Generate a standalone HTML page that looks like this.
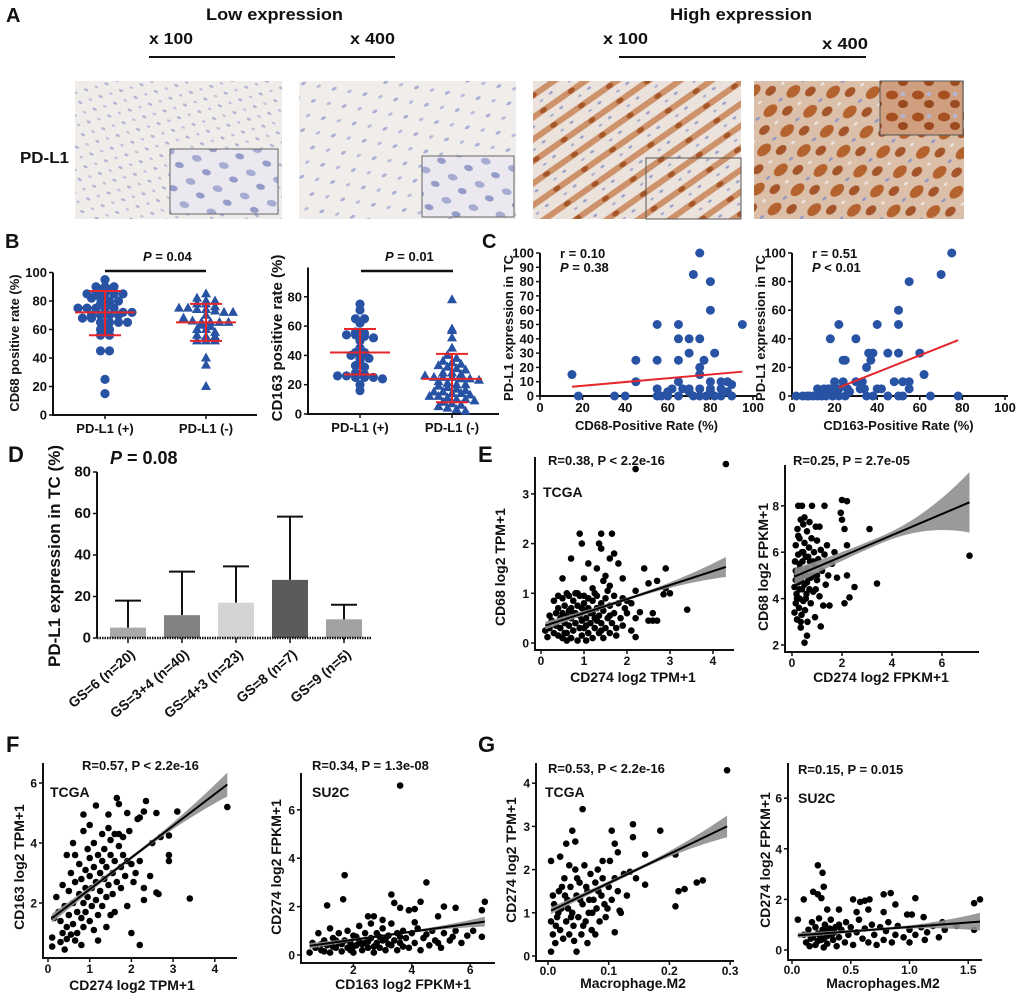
<!DOCTYPE html>
<html><head><meta charset="utf-8">
<style>
html,body{margin:0;padding:0;background:#fff;}
svg{display:block;}
text{font-family:"Liberation Sans",Arial,sans-serif;font-weight:bold;fill:#111;}
</style></head>
<body>
<svg id="fig" width="1020" height="1000" viewBox="0 0 1020 1000" xmlns="http://www.w3.org/2000/svg">
<defs>
<pattern id="lowP" width="16" height="14" patternUnits="userSpaceOnUse" patternTransform="rotate(25)">
<rect width="16" height="14" fill="#efece9"/>
<ellipse cx="4" cy="3" rx="2.2" ry="1.2" fill="#aeb2d5"/>
<ellipse cx="12" cy="10" rx="1.8" ry="1.1" fill="#bcbfdc"/>
</pattern>
<pattern id="lowP2" width="24" height="20" patternUnits="userSpaceOnUse" patternTransform="rotate(-30)">
<rect width="24" height="20" fill="#f0edeb"/>
<ellipse cx="5" cy="4" rx="2.8" ry="1.5" fill="#a8add4"/>
<ellipse cx="17" cy="14" rx="2.4" ry="1.4" fill="#b5b9db"/>
</pattern>
<pattern id="lowInset" width="28" height="24" patternUnits="userSpaceOnUse" patternTransform="rotate(15)">
<rect width="28" height="24" fill="#ebe9ef"/>
<ellipse cx="7" cy="6" rx="5" ry="3.2" fill="#a6abd2"/>
<ellipse cx="20" cy="17" rx="4.5" ry="3" fill="#959bc9"/>
</pattern>
<pattern id="highP" width="34" height="18" patternUnits="userSpaceOnUse" patternTransform="rotate(-35)">
<rect width="34" height="18" fill="#ece2dc"/>
<rect y="3" width="34" height="6" fill="#c98456" opacity="0.85"/>
<ellipse cx="8" cy="6" rx="4" ry="2.5" fill="#a45628"/>
<ellipse cx="24" cy="14" rx="2.2" ry="1.2" fill="#9aa0cc"/>
<ellipse cx="12" cy="15" rx="2" ry="1.1" fill="#a7acd2"/>
</pattern>
<pattern id="highP2" width="30" height="26" patternUnits="userSpaceOnUse" patternTransform="rotate(-40)">
<rect width="30" height="26" fill="#dcbfa8"/>
<ellipse cx="9" cy="8" rx="8" ry="5" fill="#b4632f"/>
<ellipse cx="22" cy="19" rx="6" ry="4" fill="#a5552a"/>
<ellipse cx="24" cy="6" rx="2.5" ry="1.3" fill="#8f96c6"/>
<ellipse cx="6" cy="21" rx="2.2" ry="1.2" fill="#eee6e2"/>
</pattern>
<pattern id="highInset" width="26" height="22" patternUnits="userSpaceOnUse">
<rect width="26" height="22" fill="#cf9f7f"/>
<ellipse cx="8" cy="7" rx="6" ry="4.5" fill="#a64f20"/>
<ellipse cx="19" cy="16" rx="5" ry="4" fill="#9a4a1e"/>
<ellipse cx="19" cy="6" rx="2.5" ry="2" fill="#b3b4d6"/>
</pattern>
</defs>

<g>
<text x="6" y="22" font-size="20">A</text>
<text x="206" y="20" font-size="17" textLength="137" lengthAdjust="spacingAndGlyphs">Low expression</text>
<text x="670" y="20" font-size="17" textLength="142" lengthAdjust="spacingAndGlyphs">High expression</text>
<text x="149" y="44" font-size="16" textLength="44" lengthAdjust="spacingAndGlyphs">x 100</text>
<text x="350" y="44" font-size="16" textLength="45" lengthAdjust="spacingAndGlyphs">x 400</text>
<line x1="149" y1="57" x2="395" y2="57" stroke="#111" stroke-width="2"/>
<text x="603" y="44" font-size="16" textLength="45" lengthAdjust="spacingAndGlyphs">x 100</text>
<text x="822" y="49" font-size="16" textLength="46" lengthAdjust="spacingAndGlyphs">x 400</text>
<line x1="619" y1="57" x2="866" y2="57" stroke="#111" stroke-width="2"/>
<text x="20" y="163" font-size="16" textLength="49" lengthAdjust="spacingAndGlyphs">PD-L1</text>
<rect x="75" y="81" width="207" height="138" fill="url(#lowP)"/>
<rect x="170" y="149" width="108" height="65" fill="url(#lowInset)" stroke="#666" stroke-width="1"/>
<rect x="299" y="81" width="217" height="138" fill="url(#lowP2)"/>
<rect x="422" y="156" width="92" height="61" fill="url(#lowInset)" stroke="#666" stroke-width="1"/>
<rect x="533" y="81" width="208" height="138" fill="url(#highP)"/>
<rect x="646" y="158" width="95" height="61" fill="url(#highP)" stroke="#555" stroke-width="1"/>
<rect x="754" y="81" width="210" height="138" fill="url(#highP2)"/>
<rect x="880" y="81" width="83" height="54" fill="url(#highInset)" stroke="#555" stroke-width="1"/>
</g>

<text x="5" y="248" font-size="20">B</text>
<text x="482" y="248" font-size="20">C</text>
<text x="8" y="462" font-size="22">D</text>
<text x="478" y="462" font-size="22">E</text>
<text x="6" y="752" font-size="22">F</text>
<text x="478" y="752" font-size="22">G</text>

<g id="charts"></g>
</svg>

<script>
// ---------- DATA ----------
const bLeftPos = [95,90,90,90,88,88,85,85,85,85,85,82,82,80,80,78,78,75,75,75,75,75,72,72,70,70,70,70,68,68,65,65,65,65,62,60,60,56,56,45,45,25,15];
const bLeftNeg = [85,82,80,80,78,78,76,75,75,74,74,73,72,72,70,68,66,65,65,65,65,63,62,60,60,58,56,55,55,52,52,52,40,35,20];
const bLeftMean = [72,65];
const bLeftSdLo = [56,52];
const bLeftSdHi = [87,78];
const bRightPos = [75,71,65,65,62,56,55,54,54,53,52,50,45,42,42,40,38,38,36,33,32,28,27,26,26,25,25,25,24,20,16];
const bRightNeg = [78,58,57,52,45,40,38,36,35,34,33,32,31,30,28,28,27,26,25,25,25,24,24,23,22,21,20,20,19,18,17,16,15,15,14,14,13,12,12,11,10,10,9,8,7,6,5,4,3,2];
const bRightMean = [42,24];
const bRightSdLo = [27,8];
const bRightSdHi = [58,41];
const bCategories = ["PD-L1 (+)","PD-L1 (-)"];
const bLeftTicks = [0,20,40,60,80,100];
const bRightTicks = [0,20,40,60,80];
const cLeftPoints = [[15,15],[18,0],[35,0],[40,0],[45,25],[45,10],[55,50],[55,25],[55,5],[55,0],[57,0],[60,3],[60,0],[62,5],[65,50],[65,40],[65,25],[65,10],[65,0],[67,5],[70,40],[70,30],[70,5],[70,3],[72,85],[72,0],[75,100],[75,40],[75,20],[75,15],[75,5],[75,0],[77,25],[78,0],[80,80],[80,60],[80,10],[80,5],[80,3],[82,0],[82,30],[85,10],[85,5],[85,0],[88,10],[88,3],[90,8],[90,0],[95,50]];
const cLeftFit = [[15,6.5],[95,17]];
const cRightPoints = [[2,0],[5,0],[7,0],[8,0],[10,0],[12,0],[12,5],[14,0],[15,5],[15,3],[16,0],[17,5],[18,5],[18,40],[19,0],[20,5],[20,10],[22,50],[22,5],[22,0],[24,25],[24,10],[25,25],[25,0],[26,5],[27,3],[30,40],[30,10],[32,5],[33,10],[34,5],[35,20],[35,0],[36,30],[37,25],[38,30],[38,0],[40,50],[40,5],[42,5],[45,30],[45,0],[48,10],[50,60],[50,50],[50,30],[50,0],[52,10],[52,0],[55,80],[55,10],[55,5],[60,30],[62,15],[65,0],[70,85],[75,100],[78,0]];
const cRightFit = [[22,6],[78,39]];
const cXTicks = [0,20,40,60,80,100];
const cLeftYTicks = [0,10,20,30,40,50,60,70,80,90,100];
const cRightYTicks = [0,20,40,60,80,100];
const dCategories = ["GS=6 (n=20)","GS=3+4 (n=40)","GS=4+3 (n=23)","GS=8 (n=7)","GS=9 (n=5)"];
const dMeans = [5,11,17,28,9];
const dErrHigh = [18,32,34.5,58.5,16];
const dColors = ["#a9a9ab","#818183","#d4d4d6","#5b5b5d","#a2a2a4"];
const dTicks = [0,20,40,60,80];
const eLeftPoints = [[4.3,3.6],[2.2,3.5],[1.4,2.2],[0.9,2.2],[1.65,2.2],[0.95,2.0],[1.35,2.0],[1.4,1.9],[1.7,1.8],[1.6,1.7],[0.7,1.7],[1.1,1.6],[1.8,1.6],[1.3,1.5],[2.4,1.5],[2.9,1.5],[1.9,1.3],[0.5,1.3],[1.5,1.35],[2.7,1.25],[2.5,1.2],[2.9,1.1],[3.0,1.0],[2.2,1.05],[2.85,0.98],[3.4,0.67],[2.6,0.6],[2.5,0.45],[2.6,0.45],[2.7,0.45],[2.2,0.12],[2.3,0.62],[2.0,0.85],[1.2,1.1],[1.0,1.3],[1.45,1.25],[1.6,1.15],[0.8,1.0],[0.6,1.0],
[0.1,0.25],[0.15,0.12],[0.2,0.3],[0.25,0.45],[0.3,0.2],[0.35,0.6],[0.35,0.35],[0.4,0.15],[0.4,0.7],[0.45,0.5],[0.45,0.3],[0.5,0.9],[0.5,0.6],[0.5,0.1],[0.55,0.4],[0.55,0.75],[0.6,0.2],[0.6,0.55],[0.65,0.95],[0.65,0.35],[0.7,0.7],[0.7,0.1],[0.7,0.5],[0.75,0.85],[0.75,0.25],[0.8,0.6],[0.8,0.4],[0.85,0.05],[0.85,0.75],[0.9,0.95],[0.9,0.3],[0.9,0.55],[0.95,0.45],[0.95,0.15],[1.0,0.8],[1.0,0.65],[1.0,0.3],[1.05,0.05],[1.05,0.5],[1.1,0.9],[1.1,0.7],[1.1,0.2],[1.15,0.4],[1.15,0.6],[1.2,0.85],[1.2,0.1],[1.25,0.5],[1.25,0.3],[1.3,0.7],[1.3,0.95],[1.35,0.2],[1.35,0.55],[1.4,0.4],[1.4,0.8],[1.45,0.1],[1.45,0.65],[1.5,0.3],[1.5,0.9],[1.55,0.5],[1.6,0.75],[1.6,0.2],[1.65,0.4],[1.7,0.6],[1.7,0.95],[1.75,0.3],[1.8,0.8],[1.85,0.5],[1.9,0.9],[1.95,0.7],[2.0,0.6],[0.3,0.85],[0.2,0.55],[0.6,0.05],[1.25,1.0],[0.85,1.0],[1.55,1.05],[1.0,0.95],[0.4,0.95],[0.55,0.2],[0.75,0.6],[1.05,0.35],[1.3,0.45],[1.6,0.55],[1.2,0.6],[0.95,0.7],[0.65,0.65],[1.4,0.25],[1.75,0.15],[1.9,0.35],[2.1,0.8],[2.2,0.5],[2.1,0.25]];
const eLeftFit = [[0.1,0.35],[4.3,1.53]];
const eLeftCI = [0.08,0.03,0.2];
const eRightPoints = [[7.1,5.85],[3.1,7.0],[2.2,8.2],[2.0,8.25],[1.95,7.7],[2.0,7.4],[2.1,7.0],[2.2,6.3],[2.2,5.0],[2.5,4.5],[3.4,4.65],[2.3,4.05],[2.1,3.8],[1.15,2.8],[0.6,2.4],[0.5,2.1],[0.35,2.75],[1.3,8.0],[0.8,8.0],[0.4,8.0],[0.25,8.0],
[0.1,3.4],[0.1,4.5],[0.12,5.6],[0.15,3.8],[0.15,6.3],[0.18,4.2],[0.2,5.0],[0.2,3.1],[0.22,7.0],[0.25,4.7],[0.25,5.9],[0.28,3.6],[0.3,6.6],[0.3,4.0],[0.32,5.3],[0.35,7.4],[0.35,4.8],[0.38,3.3],[0.4,6.0],[0.4,4.4],[0.42,5.6],[0.45,7.2],[0.45,3.9],[0.48,5.1],[0.5,6.4],[0.5,4.6],[0.52,3.5],[0.55,5.8],[0.58,4.2],[0.6,6.9],[0.6,5.3],[0.62,3.0],[0.65,4.9],[0.68,6.2],[0.7,4.4],[0.72,5.6],[0.75,3.8],[0.78,6.6],[0.8,5.0],[0.85,4.3],[0.88,6.0],[0.9,5.4],[0.92,3.2],[0.95,7.1],[1.0,4.8],[1.0,6.5],[1.05,5.7],[1.1,4.1],[1.15,6.1],[1.2,5.2],[1.25,3.7],[1.3,5.9],[1.35,4.6],[1.4,6.3],[1.45,5.0],[1.5,3.7],[1.6,5.5],[1.7,6.0],[1.8,4.9],[0.15,5.2],[0.3,5.5],[0.45,6.0],[0.55,4.0],[0.65,5.8],[0.35,3.0],[0.25,6.7],[0.5,7.5],[0.7,7.3],[0.4,5.0],[0.2,4.0],[0.85,5.6],[0.6,4.7],[1.1,7.1],[1.0,5.0],[0.3,4.4],[0.55,5.0],[0.15,4.8],[0.75,4.9],[0.95,4.4]];
const eRightFit = [[0.1,4.95],[7.1,8.15]];
const eRightCI = [0.35,0.15,1.3];
const fLeftPoints = [[4.3,5.2],[3.4,2.15],[2.2,0.6],[2.0,1.0],[3.1,5.05],[2.9,3.6],[2.9,3.4],[2.9,4.25],[2.7,4.2],[2.65,2.3],[2.6,2.35],[2.3,2.1],[2.45,2.9],[2.5,4.0],[2.6,5.0],[2.35,5.4],[2.3,5.05],[1.65,5.5],[1.15,5.25],[0.85,4.95],[1.45,4.95],[1.7,5.3],[1.9,5.0],[2.2,4.85],[0.1,0.85],[0.1,0.55],[0.3,0.7],[0.4,0.45],[0.45,0.8],[0.65,0.75],[0.8,0.6],
[0.2,2.2],[0.25,1.7],[0.3,1.4],[0.35,2.6],[0.4,1.9],[0.45,1.2],[0.5,2.4],[0.5,1.6],[0.55,3.0],[0.55,0.95],[0.6,2.0],[0.6,1.3],[0.65,3.6],[0.65,2.7],[0.7,1.7],[0.7,1.0],[0.75,2.3],[0.75,3.3],[0.8,1.5],[0.8,2.8],[0.85,2.0],[0.85,1.2],[0.9,3.1],[0.9,2.5],[0.9,1.7],[0.95,3.8],[0.95,2.2],[1.0,1.4],[1.0,2.9],[1.0,3.5],[1.05,1.9],[1.05,2.5],[1.1,3.2],[1.1,1.1],[1.1,4.0],[1.15,2.7],[1.15,2.1],[1.2,3.6],[1.2,1.6],[1.25,3.0],[1.25,2.4],[1.3,4.3],[1.3,3.4],[1.3,1.9],[1.35,2.8],[1.35,3.8],[1.4,2.2],[1.4,3.2],[1.45,4.5],[1.45,2.6],[1.5,3.6],[1.5,1.6],[1.5,4.1],[1.55,3.0],[1.55,2.3],[1.6,4.3],[1.6,3.4],[1.65,2.7],[1.7,3.9],[1.7,4.3],[1.75,3.2],[1.75,2.5],[1.8,4.2],[1.8,3.6],[1.85,2.9],[1.9,3.4],[1.95,4.4],[2.0,3.3],[2.05,2.7],[2.1,3.0],[2.15,4.8],[2.2,3.4],[2.3,2.5],[1.2,0.75],[0.45,3.6],[0.6,4.0],[0.85,4.4],[1.0,4.6],[1.4,1.2],[1.6,1.7],[1.9,1.9],[0.35,1.0],[0.15,1.5]];
const fLeftFit = [[0.1,1.5],[4.3,5.95]];
const fLeftCI = [0.15,0.06,0.4];
const fRightPoints = [[3.6,7.0],[1.7,3.3],[4.5,3.0],[3.3,2.5],[1.1,2.05],[1.65,2.3],[3.4,2.15],[3.6,1.95],[4.1,1.9],[4.3,2.2],[5.1,2.0],[5.5,1.95],[6.5,2.2],[6.4,1.85],[6.4,0.75],[4.9,1.6],[2.5,1.6],[2.7,1.6],[3.0,1.45],[3.9,1.85],[4.1,1.35],
[0.5,0.1],[0.6,0.5],[0.7,0.3],[0.8,0.9],[0.9,0.2],[1.0,0.6],[1.1,0.4],[1.2,1.1],[1.2,0.1],[1.3,0.7],[1.4,0.3],[1.5,0.9],[1.5,0.5],[1.6,0.15],[1.7,0.6],[1.8,1.0],[1.8,0.3],[1.9,0.5],[2.0,0.8],[2.0,0.1],[2.1,0.4],[2.2,1.2],[2.2,0.6],[2.3,0.2],[2.4,0.9],[2.4,0.5],[2.5,0.3],[2.6,1.3],[2.6,0.7],[2.7,0.1],[2.8,0.5],[2.8,0.9],[2.9,0.3],[3.0,1.1],[3.0,0.6],[3.1,0.2],[3.2,0.8],[3.3,0.4],[3.3,1.3],[3.4,0.6],[3.5,0.9],[3.5,0.2],[3.6,0.5],[3.7,1.0],[3.8,0.7],[3.9,0.3],[4.0,0.9],[4.1,0.5],[4.2,1.1],[4.3,0.2],[4.4,0.7],[4.6,0.4],[4.7,1.0],[4.8,0.6],[5.0,0.3],[5.1,0.9],[5.3,0.6],[5.5,1.0],[5.7,0.5],[5.9,0.8],[6.1,1.0],[1.0,0.15],[1.3,0.35],[1.6,0.45],[2.1,0.75],[2.5,0.55],[2.9,0.75],[3.2,0.45],[3.7,0.35],[4.5,0.85],[0.9,0.45],[1.9,0.2],[2.3,0.45],[2.7,0.35],[3.1,0.65],[3.6,0.75],[4.9,0.5],[5.4,0.75],[1.4,0.6],[2.0,0.35]];
const fRightFit = [[0.5,0.38],[6.5,1.38]];
const fRightCI = [0.12,0.04,0.2];
const gLeftPoints = [[0.295,4.3],[0.057,3.4],[0.14,3.05],[0.105,2.9],[0.185,2.9],[0.04,2.9],[0.14,2.75],[0.045,2.65],[0.03,2.6],[0.11,2.6],[0.115,2.4],[0.16,2.35],[0.21,2.35],[0.005,2.2],[0.02,2.3],[0.255,1.75],[0.245,1.7],[0.21,1.15],[0.225,1.55],[0.215,1.5],[0.16,1.65],[0.145,1.8],[0.11,0.55],[0.047,0.1],[0.005,0.1],[0.135,1.95],[0.118,1.05],[0.09,2.2],
[0.005,0.8],[0.008,0.5],[0.01,1.2],[0.012,0.3],[0.015,0.9],[0.018,1.5],[0.02,0.6],[0.022,1.1],[0.025,0.4],[0.027,1.8],[0.03,0.8],[0.032,1.3],[0.035,0.5],[0.037,1.6],[0.04,1.0],[0.042,0.7],[0.045,2.0],[0.047,1.4],[0.05,0.9],[0.052,1.7],[0.055,0.5],[0.057,1.2],[0.06,2.1],[0.062,0.8],[0.065,1.5],[0.067,1.0],[0.07,1.9],[0.072,0.6],[0.075,1.3],[0.078,1.7],[0.08,1.1],[0.082,2.0],[0.085,0.8],[0.088,1.4],[0.09,1.8],[0.093,1.2],[0.095,0.9],[0.1,1.6],[0.102,2.2],[0.105,1.3],[0.11,1.8],[0.115,1.5],[0.12,1.0],[0.125,1.9],[0.13,1.4],[0.013,0.7],[0.023,1.6],[0.033,1.1],[0.043,0.35],[0.053,1.3],[0.063,1.6],[0.073,1.0],[0.083,1.5],[0.028,1.4],[0.038,0.9],[0.058,0.7],[0.068,1.3],[0.017,1.0],[0.048,1.8],[0.078,0.5],[0.098,1.1],[0.035,2.1],[0.065,0.3],[0.008,1.4]];
const gLeftFit = [[0.005,1.05],[0.295,3.0]];
const gLeftCI = [0.08,0.04,0.25];
const gRightPoints = [[0.22,3.35],[0.26,3.05],[0.27,2.5],[0.18,2.3],[0.22,2.2],[0.25,2.05],[0.1,2.0],[0.05,1.2],[0.3,1.6],[0.4,1.6],[0.52,2.0],[0.58,1.9],[0.62,1.95],[0.66,2.0],[0.55,1.5],[0.65,1.6],[0.78,2.2],[0.84,2.25],[0.88,1.8],[1.05,2.05],[0.78,1.5],[0.98,1.4],[1.02,1.4],[1.12,1.3],[1.55,1.85],[1.6,2.0],[1.55,0.8],[1.0,0.3],[1.13,0.4],[1.28,1.1],
[0.1,0.6],[0.12,0.3],[0.14,0.8],[0.15,0.15],[0.17,1.1],[0.18,0.5],[0.2,0.9],[0.2,0.2],[0.22,0.65],[0.23,1.25],[0.25,0.4],[0.26,0.8],[0.27,0.1],[0.28,1.0],[0.3,0.55],[0.3,0.25],[0.32,0.85],[0.33,1.2],[0.35,0.4],[0.36,0.7],[0.38,0.15],[0.4,1.0],[0.4,0.5],[0.42,0.8],[0.45,0.3],[0.46,1.1],[0.48,0.6],[0.5,0.9],[0.52,0.2],[0.55,0.7],[0.57,1.2],[0.6,0.45],[0.62,0.85],[0.65,0.3],[0.68,1.0],[0.7,0.6],[0.72,0.2],[0.75,0.9],[0.78,0.4],[0.8,0.75],[0.82,1.1],[0.85,0.3],[0.88,0.6],[0.9,0.95],[0.95,0.5],[1.0,0.8],[1.05,0.6],[1.1,0.9],[1.15,0.7],[1.2,0.95],[1.25,0.5],[1.3,0.8],[1.4,0.95],[0.16,0.45],[0.24,0.55],[0.29,0.75],[0.34,0.6],[0.22,0.35],[0.37,0.9],[0.27,0.45]];
const gRightFit = [[0.05,0.58],[1.6,1.12]];
const gRightCI = [0.1,0.05,0.35];

// ---------- DRAW ----------
const NS = "http://www.w3.org/2000/svg";
const root = document.getElementById('charts');
function mk(tag, attrs, parent){
  const e = document.createElementNS(NS, tag);
  for (const k in attrs) e.setAttribute(k, attrs[k]);
  (parent || root).appendChild(e);
  return e;
}
function txt(str, x, y, attrs, parent){
  const t = mk('text', Object.assign({x:x, y:y, 'font-size':12}, attrs || {}), parent);
  t.textContent = str;
  return t;
}
function group(name){
  const g = mk('g', {});
  
  
  return g;
}
function axes(g, cfg){
  const ax = mk('path', {d:`M${cfg.xl},${cfg.yt} L${cfg.xl},${cfg.yb} L${cfg.xr},${cfg.yb}`, fill:'none', stroke:'#111', 'stroke-width':cfg.sw || 2}, g);
  
  
  (cfg.yTicks || []).forEach((v, i) => {
    const y = cfg.sy(v);
    const tk = mk('line', {x1:cfg.xl - 4, x2:cfg.xl, y1:y, y2:y, stroke:'#111', 'stroke-width':1.5}, g);
    
    
    const lbl = txt(cfg.yLabels ? cfg.yLabels[i] : String(v), cfg.xl - 6, y + 4.5, {'text-anchor':'end', 'font-size':cfg.tfs || 12}, g);
    
    
  });
  (cfg.xTicks || []).forEach((v, i) => {
    const x = cfg.sx(v);
    const tk = mk('line', {x1:x, x2:x, y1:cfg.yb, y2:cfg.yb + 4, stroke:'#111', 'stroke-width':1.5}, g);
    
    
    const lbl = txt(cfg.xLabels ? cfg.xLabels[i] : String(v), x, cfg.yb + (cfg.xlo || 16), {'text-anchor':'middle', 'font-size':cfg.tfs || 12}, g);
    
    
  });
}
function ytitle(g, str, x, y, fs){
  const t = txt(str, x, y, {'text-anchor':'middle', 'font-size':fs, transform:`rotate(-90 ${x} ${y})`}, g);
  
  
}
function xtitle(g, str, x, y, fs){
  const t = txt(str, x, y, {'text-anchor':'middle', 'font-size':fs}, g);
  
  
}

function swarmOffsets(vals, spacing){
  const bins = {};
  vals.forEach((v, i) => { const k = Math.round(v / 3.5); (bins[k] = bins[k] || []).push(i); });
  const off = new Array(vals.length).fill(0);
  Object.values(bins).forEach(list => list.forEach((idx, k) => { off[idx] = (k - (list.length - 1) / 2) * spacing; }));
  return off;
}
function drawDotPlot(g, sx, sy, groups, means, lo, hi){
  groups.forEach((vals, gi) => {
    const cx = sx(gi);
    const off = swarmOffsets(vals, 9);
    vals.forEach((v, i) => {
      const x = cx + off[i], y = sy(v);
      let m;
      if (gi === 0) {
        m = mk('circle', {cx:x, cy:y, r:4.6, fill:'#2852a3'}, g);
      } else {
        m = mk('path', {d:`M${x},${y-5.5} L${x+5},${y+3.5} L${x-5},${y+3.5} Z`, fill:'#2852a3'}, g);
      }
      
      
    });
    const mean = mk('line', {x1:cx - 30, x2:cx + 30, y1:sy(means[gi]), y2:sy(means[gi]), stroke:'#e5262b', 'stroke-width':2}, g);
    
    
    const sd = mk('path', {d:`M${cx},${sy(lo[gi])} L${cx},${sy(hi[gi])} M${cx-16},${sy(lo[gi])} L${cx+16},${sy(lo[gi])} M${cx-16},${sy(hi[gi])} L${cx+16},${sy(hi[gi])}`, stroke:'#e5262b', 'stroke-width':2, fill:'none'}, g);
    
    
  });
}
(function(){
  const g = group('cd68-dot-plot');
  const sy = v => 415 - v * 1.425;
  const sx = i => [105, 206][i];
  axes(g, {xl:53, xr:257, yt:sy(100), yb:415, sx:sx, sy:sy, yTicks:bLeftTicks, xTicks:[0,1], xLabels:bCategories, xlo:18, tfs:13});
  drawDotPlot(g, sx, sy, [bLeftPos, bLeftNeg], bLeftMean, bLeftSdLo, bLeftSdHi);
  ytitle(g, "CD68 positive rate (%)", 19, 343, 13);
  const ln = mk('line', {x1:105, x2:206, y1:271, y2:271, stroke:'#111', 'stroke-width':2.5}, g);
  
  
  const p = txt('', 143, 261, {'font-size':13}, g);
  p.innerHTML = '<tspan font-style="italic">P</tspan> = 0.04';
  
  
})();
(function(){
  const g = group('cd163-dot-plot');
  const sy = v => 414 - v * 1.465;
  const sx = i => [360, 452][i];
  axes(g, {xl:308, xr:499, yt:sy(100), yb:414, sx:sx, sy:sy, yTicks:bRightTicks, xTicks:[0,1], xLabels:bCategories, xlo:18, tfs:13});
  drawDotPlot(g, sx, sy, [bRightPos, bRightNeg], bRightMean, bRightSdLo, bRightSdHi);
  ytitle(g, "CD163 positive rate (%)", 282, 338, 15);
  const ln = mk('line', {x1:361, x2:453, y1:271, y2:271, stroke:'#111', 'stroke-width':2.5}, g);
  
  
  const p = txt('', 385, 261, {'font-size':13}, g);
  p.innerHTML = '<tspan font-style="italic">P</tspan> = 0.01';
  
  
})();

function drawC(name, x0, pts, fit, yTicks, xtitleStr, rStr, pStr, ytx){
  const g = group(name);
  const sx = v => x0 + v * 2.13;
  const sy = v => 396 - v * 1.43;
  axes(g, {xl:x0, xr:sx(100) + 3, yt:sy(100), yb:396, sx:sx, sy:sy, yTicks:yTicks, xTicks:cXTicks, xlo:16, tfs:13});
  pts.forEach(p => {
    const c = mk('circle', {cx:sx(p[0]), cy:sy(p[1]), r:4.5, fill:'#2852a3'}, g);
    
    
  });
  const l = mk('line', {x1:sx(fit[0][0]), y1:sy(fit[0][1]), x2:sx(fit[1][0]), y2:sy(fit[1][1]), stroke:'#e5262b', 'stroke-width':2}, g);
  
  
  xtitle(g, xtitleStr, sx(50), 430, 13);
  ytitle(g, "PD-L1 expression in TC", ytx, 328, 13);
  const r = txt(rStr, x0 + 20, 258, {'font-size':13}, g);
  
  
  const p = txt('', x0 + 20, 272, {'font-size':13}, g);
  p.innerHTML = '<tspan font-style="italic">P</tspan> ' + pStr;
  
  
}
drawC('cd68-pdl1-scatter', 540, cLeftPoints, cLeftFit, cLeftYTicks, "CD68-Positive Rate (%)", "r = 0.10", "= 0.38", 513);
drawC('cd163-pdl1-scatter', 792, cRightPoints, cRightFit, cRightYTicks, "CD163-Positive Rate (%)", "r = 0.51", "< 0.01", 765);

(function(){
  const g = group('gleason-bar-chart');
  const sy = v => 638 - v * 2.075;
  const sx = i => 128 + i * 54;
  axes(g, {xl:97, xr:97, yt:sy(80), yb:638, sx:sx, sy:sy, yTicks:dTicks, tfs:15});
  dMeans.forEach((v, i) => {
    const x = sx(i);
    const eb = mk('path', {d:`M${x},${sy(v)} L${x},${sy(dErrHigh[i])} M${x-13},${sy(dErrHigh[i])} L${x+13},${sy(dErrHigh[i])}`, stroke:'#111', 'stroke-width':2, fill:'none'}, g);
    
    
    const b = mk('rect', {x:x - 18, y:sy(v), width:36, height:638 - sy(v), fill:dColors[i]}, g);
    
    
    const tk = mk('line', {x1:x, x2:x, y1:638, y2:643, stroke:'#111', 'stroke-width':1.5}, g);
    
    
    const lb = txt(dCategories[i], x + 8, 656, {'text-anchor':'end', 'font-size':14, transform:`rotate(-40 ${x+8} 656)`}, g);
    
    
  });
  const base = mk('line', {x1:97, x2:372, y1:638, y2:638, stroke:'#111', 'stroke-width':2.5, 'stroke-dasharray':'1.5,1'}, g);
  
  
  ytitle(g, "PD-L1 expression in TC (%)", 60, 556, 17);
  const p = txt('', 110, 464, {'font-size':18}, g);
  p.innerHTML = '<tspan font-style="italic">P</tspan> = 0.08';
  
  
})();

function drawReg(g, sx, sy, fit, ci){
  const [a, b] = fit;
  const slope = (b[1] - a[1]) / (b[0] - a[0]);
  const N = 24, up = [], dn = [];
  for (let k = 0; k <= N; k++){
    const t = k / N;
    const xv = a[0] + (b[0] - a[0]) * t;
    const yv = a[1] + slope * (xv - a[0]);
    const h = t < 0.5 ? ci[1] + (ci[0] - ci[1]) * Math.pow(1 - 2 * t, 2) : ci[1] + (ci[2] - ci[1]) * Math.pow(2 * t - 1, 2);
    up.push(sx(xv) + ',' + sy(yv + h));
    dn.unshift(sx(xv) + ',' + sy(yv - h));
  }
  const band = mk('polygon', {points:up.concat(dn).join(' '), fill:'#8f8f8f', opacity:0.9}, g);
  
  
  const l = mk('line', {x1:sx(a[0]), y1:sy(a[1]), x2:sx(b[0]), y2:sy(b[1]), stroke:'#000', 'stroke-width':2}, g);
  
  
}
function drawScatter(name, cfg, pts, fit, ci){
  const g = group(name);
  axes(g, cfg);
  pts.forEach(p => {
    const c = mk('circle', {cx:cfg.sx(p[0]), cy:cfg.sy(p[1]), r:3.3, fill:'#000'}, g);
    
    
  });
  drawReg(g, cfg.sx, cfg.sy, fit, ci);
  xtitle(g, cfg.xt, cfg.xtx, cfg.xty, 14);
  ytitle(g, cfg.yt2, cfg.ytx, cfg.yty, 14);
  const r = txt(cfg.stat, cfg.statx, cfg.staty, {'font-size':13}, g);
  
  
  if (cfg.cohort){
    const c = txt(cfg.cohort, cfg.cx, cfg.cy, {'font-size':14}, g);
    
    
  }
}
drawScatter('cd274-cd68-tcga', {xl:535, xr:734, yt:457, yb:650, sx:v => 541 + v * 43, sy:v => 643 - v * 49.7,
  xTicks:[0,1,2,3,4], yTicks:[0,1,2,3], xlo:15, xt:"CD274 log2 TPM+1", xtx:633, xty:682, yt2:"CD68 log2 TPM+1", ytx:505, yty:567,
  stat:"R=0.38, P < 2.2e-16", statx:548, staty:465, cohort:"TCGA", cx:543, cy:497}, eLeftPoints, eLeftFit, eLeftCI);
drawScatter('cd274-cd68-fpkm', {xl:785, xr:979, yt:465, yb:652, sx:v => 792 + v * 25, sy:v => 645 - (v - 2) * 23.2,
  xTicks:[0,2,4,6], yTicks:[2,4,6,8], xlo:15, xt:"CD274 log2 FPKM+1", xtx:881, xty:682, yt2:"CD68 log2 FPKM+1", ytx:768, yty:567,
  stat:"R=0.25, P = 2.7e-05", statx:793, staty:465}, eRightPoints, eRightFit, eRightCI);
drawScatter('cd274-cd163-tcga', {xl:43, xr:237, yt:763, yb:958, sx:v => 48 + v * 41.7, sy:v => 963 - v * 30,
  xTicks:[0,1,2,3,4], yTicks:[2,4,6], xlo:15, xt:"CD274  log2 TPM+1", xtx:132, xty:990, yt2:"CD163 log2 TPM+1", ytx:24, yty:867,
  stat:"R=0.57, P < 2.2e-16", statx:82, staty:770, cohort:"TCGA", cx:50, cy:797}, fLeftPoints, fLeftFit, fLeftCI);
drawScatter('cd163-cd274-su2c', {xl:301, xr:495, yt:773, yb:963, sx:v => 295 + v * 29.2, sy:v => 955 - v * 24.2,
  xTicks:[2,4,6], yTicks:[0,2,4,6], xlo:11, xt:"CD163 log2 FPKM+1", xtx:403, xty:989, yt2:"CD274 log2 FPKM+1", ytx:281, yty:867,
  stat:"R=0.34, P = 1.3e-08", statx:312, staty:770, cohort:"SU2C", cx:312, cy:797}, fRightPoints, fRightFit, fRightCI);
drawScatter('m2-cd274-tcga', {xl:536, xr:734, yt:763, yb:961, sx:v => 548 + v * 607, sy:v => 956 - v * 43.2,
  xTicks:[0,0.1,0.2,0.3], xLabels:["0.0","0.1","0.2","0.3"], yTicks:[0,1,2,3,4], xlo:14, xt:"Macrophage.M2", xtx:633, xty:988, yt2:"CD274 log2 TPM+1", ytx:516, yty:860,
  stat:"R=0.53, P < 2.2e-16", statx:548, staty:773, cohort:"TCGA", cx:545, cy:797}, gLeftPoints, gLeftFit, gLeftCI);
drawScatter('m2-cd274-su2c', {xl:788, xr:982, yt:763, yb:960, sx:v => 792 + v * 117.5, sy:v => 950 - v * 25.3,
  xTicks:[0,0.5,1.0,1.5], xLabels:["0.0","0.5","1.0","1.5"], yTicks:[0,2,4,6], xlo:14, xt:"Macrophages.M2", xtx:883, xty:988, yt2:"CD274 log2 FPKM+1", ytx:770, yty:860,
  stat:"R=0.15, P = 0.015", statx:798, staty:774, cohort:"SU2C", cx:798, cy:803}, gRightPoints, gRightFit, gRightCI);
</script>
</body></html>
